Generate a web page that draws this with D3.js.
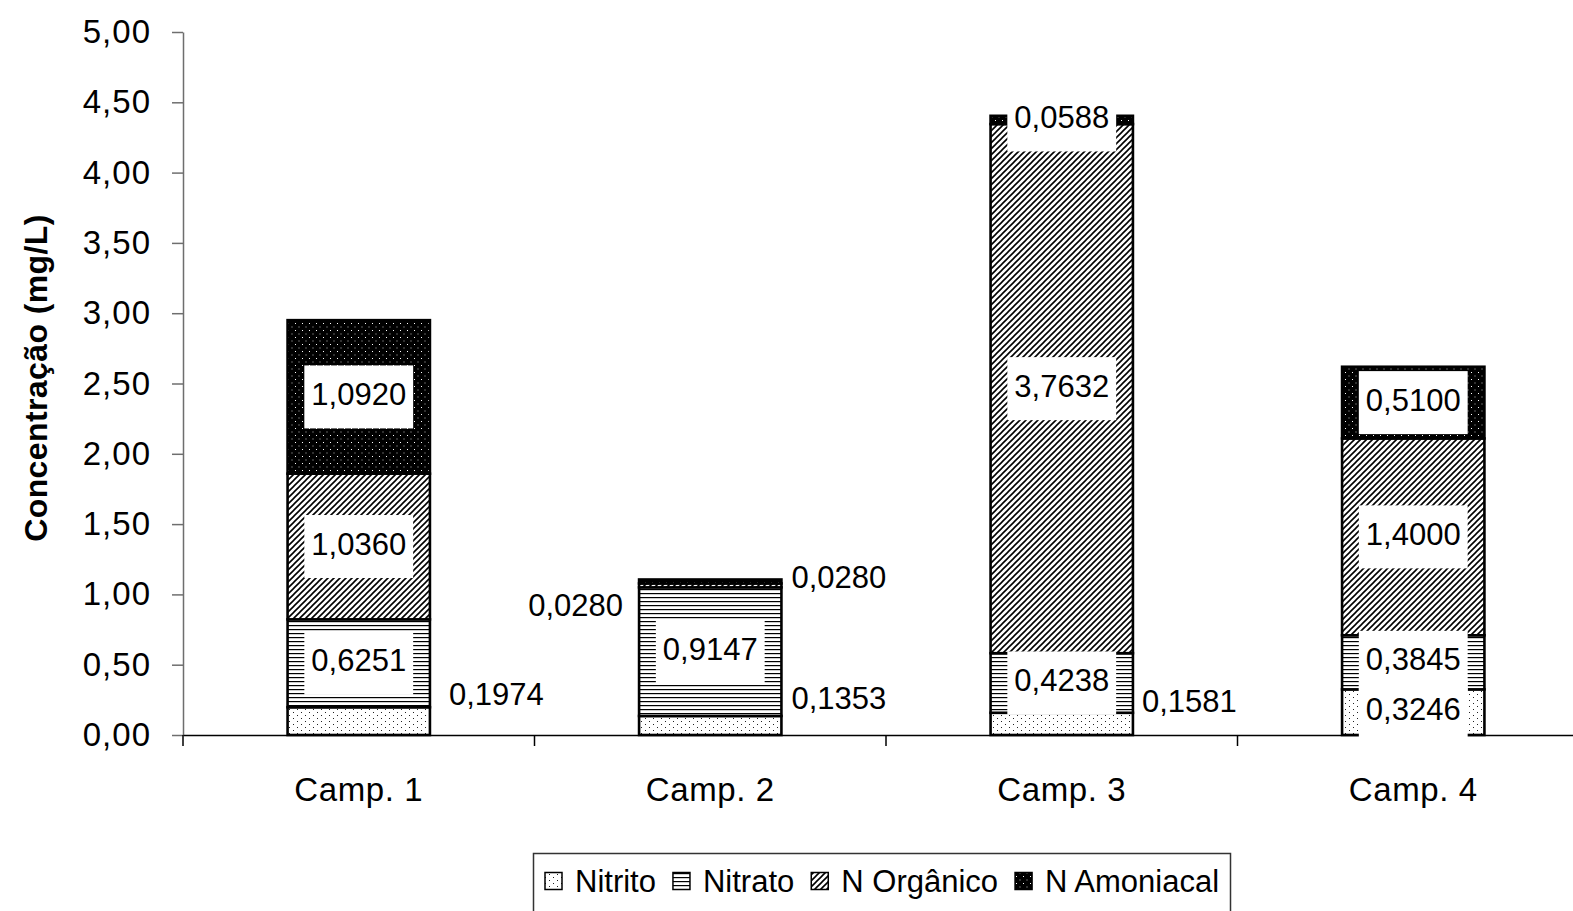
<!DOCTYPE html>
<html><head><meta charset="utf-8">
<script src="https://cdn.jsdelivr.net/npm/d3@7"></script>
<style>
html,body{margin:0;padding:0;background:#fff;}
svg{display:block;font-family:"Liberation Sans",Arial,Helvetica,sans-serif;}
</style></head><body>
<svg id="chart" width="1573" height="911"></svg>
<script>
// Nitrogen fractions per sampling campaign (mg/L)
const categories = ["Camp. 1", "Camp. 2", "Camp. 3", "Camp. 4"];
const seriesNames = ["Nitrito", "Nitrato", "N Orgânico", "N Amoniacal"];
const nitrito    = [0.1974, 0.1353, 0.1581, 0.3246];
const nitrato    = [0.6251, 0.9147, 0.4238, 0.3845];
const nOrganico  = [1.0360, 0.0280, 3.7632, 1.4000];
const nAmoniacal = [1.0920, 0.0280, 0.0588, 0.5100];
const yTicks = [0, 0.5, 1, 1.5, 2, 2.5, 3, 3.5, 4, 4.5, 5];

// Labels that sit beside the bar instead of inside it: "series|category" -> offsets
const besideLabels = {
  "0|0": {side: "right", dx: 19, dy: -27},
  "0|1": {side: "right", dx: 10, dy: -28},
  "2|1": {side: "left",  dx: -16, dy: 20},
  "3|1": {side: "right", dx: 10, dy: -5},
  "0|2": {side: "right", dx: 9,  dy: -23}
};

const rows = categories.map((c, i) => ({
  cat: c,
  "Nitrito": nitrito[i],
  "Nitrato": nitrato[i],
  "N Orgânico": nOrganico[i],
  "N Amoniacal": nAmoniacal[i]
}));

const br = d3.formatLocale({decimal: ",", thousands: ".", grouping: [3], currency: ["R$", ""]});
const fmtTick = br.format(".2f");
const fmtVal = br.format(".4f");

const svg = d3.select("#chart");

// Fill patterns for each fraction
const defs = svg.append("defs");
const pNitrito = defs.append("pattern").attr("id", "p0").attr("patternUnits", "userSpaceOnUse")
  .attr("width", 8).attr("height", 6);
pNitrito.append("rect").attr("width", 8).attr("height", 6).attr("fill", "#fff");
pNitrito.append("rect").attr("x", 1).attr("y", 1).attr("width", 1).attr("height", 1).attr("fill", "#222");
pNitrito.append("rect").attr("x", 5).attr("y", 4).attr("width", 1).attr("height", 1).attr("fill", "#222");

const pNitrato = defs.append("pattern").attr("id", "p1").attr("patternUnits", "userSpaceOnUse")
  .attr("width", 6).attr("height", 4);
pNitrato.append("rect").attr("width", 6).attr("height", 4).attr("fill", "#fff");
pNitrato.append("rect").attr("y", 1).attr("width", 6).attr("height", 1.2).attr("fill", "#000");

const pOrg = defs.append("pattern").attr("id", "p2").attr("patternUnits", "userSpaceOnUse")
  .attr("width", 6).attr("height", 6);
pOrg.append("rect").attr("width", 6).attr("height", 6).attr("fill", "#fff");
pOrg.append("path").attr("d", "M-1,1 L1,-1 M0,6 L6,0 M5,7 L7,5")
  .attr("stroke", "#000").attr("stroke-width", 1.6);

const pAmon = defs.append("pattern").attr("id", "p3").attr("patternUnits", "userSpaceOnUse")
  .attr("width", 7).attr("height", 7);
pAmon.append("rect").attr("width", 7).attr("height", 7).attr("fill", "#000");
pAmon.append("rect").attr("x", 1).attr("y", 1).attr("width", 1).attr("height", 1).attr("fill", "#fff");
pAmon.append("rect").attr("x", 4.5).attr("y", 4.5).attr("width", 1).attr("height", 1).attr("fill", "#bbb");

const fills = ["url(#p0)", "url(#p1)", "url(#p2)", "url(#p3)"];

// Scales
const y = d3.scaleLinear().domain([0, 5]).range([735, 32]);
const x = d3.scaleBand().domain(categories).range([183, 1589]).padding(0);
const barW = x.bandwidth() * 0.405;
const barX = c => x(c) + (x.bandwidth() - barW) / 2;

const stacked = d3.stack().keys(seriesNames)(rows);

// Y axis
const yAxis = svg.append("g").attr("transform", "translate(183,0)")
  .call(d3.axisLeft(y).tickValues(yTicks).tickSize(11).tickSizeOuter(0).tickPadding(21).tickFormat(fmtTick));
yAxis.select(".domain").attr("stroke", "#6e6e6e").attr("stroke-width", 1.5);
yAxis.selectAll(".tick line").attr("stroke", "#6e6e6e").attr("stroke-width", 1.5);
yAxis.selectAll(".tick text").attr("font-size", 33).attr("fill", "#000")
  .attr("font-family", "Liberation Sans, Arial, sans-serif").attr("letter-spacing", 1);

// X axis
const xAxis = svg.append("g").attr("transform", "translate(0,735)")
  .call(d3.axisBottom(x).tickSize(0).tickSizeOuter(0).tickPadding(43));
xAxis.select(".domain").attr("stroke", "#000").attr("stroke-width", 1.5);
xAxis.selectAll(".tick text").attr("font-size", 33).attr("fill", "#000")
  .attr("font-family", "Liberation Sans, Arial, sans-serif").attr("letter-spacing", 0.6);
// Tick marks between categories
const boundaries = categories.map(c => x(c)).concat([x.range()[1]]);
xAxis.selectAll(".sep").data(boundaries).enter().append("line")
  .attr("x1", d => d).attr("x2", d => d).attr("y1", 0).attr("y2", 11)
  .attr("stroke", "#000").attr("stroke-width", 1.5);

// Y axis title
svg.append("text")
  .attr("transform", "translate(47,378) rotate(-90)")
  .attr("text-anchor", "middle")
  .attr("font-size", 32).attr("font-weight", "bold").attr("letter-spacing", 0.4)
  .text("Concentração (mg/L)");

// Stacked bars
const bars = svg.append("g");
stacked.forEach((layer, si) => {
  bars.selectAll(".s" + si).data(layer).enter().append("rect")
    .attr("x", d => barX(d.data.cat))
    .attr("y", d => y(d[1]))
    .attr("width", barW)
    .attr("height", d => y(d[0]) - y(d[1]))
    .attr("fill", fills[si])
    .attr("stroke", "#000").attr("stroke-width", 2.6);
});

// Value labels
const fs = 31;
const labels = svg.append("g").attr("font-size", fs);
stacked.forEach((layer, si) => {
  layer.forEach((d, ci) => {
    const v = d[1] - d[0];
    const cy = y((d[0] + d[1]) / 2);
    const key = si + "|" + ci;
    const bx = barX(d.data.cat);
    if (besideLabels[key]) {
      const p = besideLabels[key];
      const t = labels.append("text")
        .attr("y", cy + p.dy + 0.358 * fs)
        .text(fmtVal(v));
      if (p.side === "right") t.attr("x", bx + barW + p.dx).attr("text-anchor", "start");
      else t.attr("x", bx + p.dx).attr("text-anchor", "end");
    } else {
      const cx = bx + barW / 2;
      const box = labels.append("rect").attr("fill", "#fff");
      const t = labels.append("text")
        .attr("x", cx).attr("y", cy - 3 + 0.358 * fs)
        .attr("text-anchor", "middle")
        .text(fmtVal(v));
      const w = t.node().getComputedTextLength() + 14;
      box.attr("x", cx - w / 2).attr("y", cy - 31.5).attr("width", w).attr("height", 63);
    }
  });
});

// Legend
const legend = svg.append("g");
legend.append("rect").attr("x", 533.5).attr("y", 853.5).attr("width", 697).attr("height", 80)
  .attr("fill", "#fff").attr("stroke", "#333").attr("stroke-width", 1.5);
let lx = 545;
seriesNames.forEach((name, i) => {
  legend.append("rect").attr("x", lx).attr("y", 872.5).attr("width", 17).attr("height", 17)
    .attr("fill", fills[i]).attr("stroke", "#000").attr("stroke-width", 1.5);
  const t = legend.append("text").attr("x", lx + 30).attr("y", 881 + 0.358 * 31)
    .attr("font-size", 31).text(name);
  lx += 30 + t.node().getComputedTextLength() + 17;
});
</script>
</body></html>
